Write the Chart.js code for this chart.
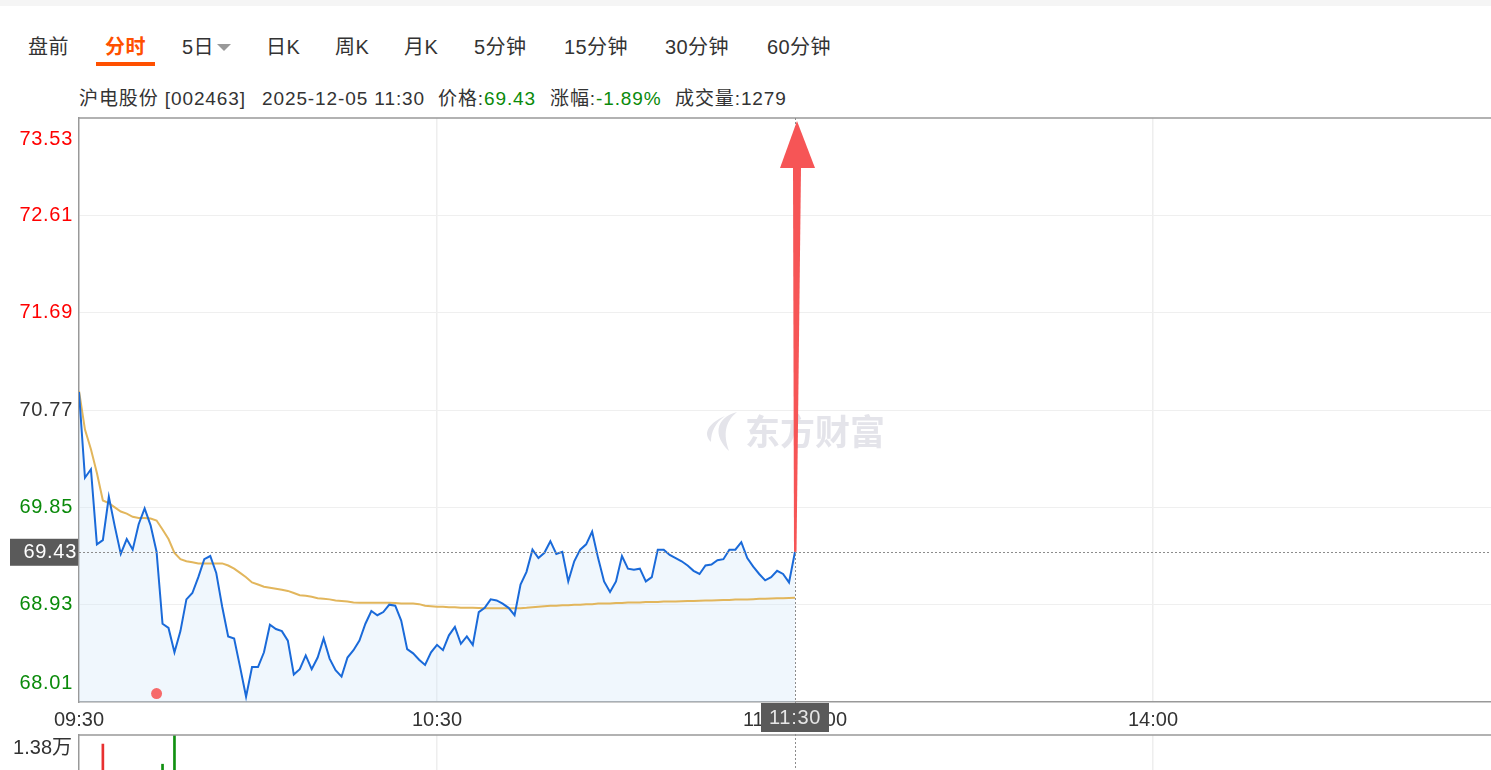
<!DOCTYPE html>
<html>
<head>
<meta charset="utf-8">
<script src="https://cdn.jsdelivr.net/npm/chart.js@4.4.1/dist/chart.umd.min.js"></script>
<style>
  html, body { margin: 0; padding: 0; width: 1491px; height: 770px; overflow: hidden; background: #fff; }
  body { position: relative; font-family: Arial, "Liberation Sans", "Noto Sans CJK SC", sans-serif; color: #333; }
  .strip { position: absolute; left: 0; top: 0; width: 1491px; height: 6px; background: #f5f5f5; }
  .t { position: absolute; top: 37px; font-size: 20px; line-height: 20px; white-space: nowrap; letter-spacing: 0.4px; }
  .t.on { color: #ff5000; font-weight: bold; }
  .bar { position: absolute; left: 96px; top: 62px; width: 59px; height: 4px; background: #ff5000; }
  .tri { position: absolute; left: 217px; top: 44px; width: 0; height: 0; border-left: 7px solid transparent; border-right: 7px solid transparent; border-top: 7px solid #999; }
  .i { position: absolute; top: 89px; font-size: 19px; line-height: 20px; white-space: nowrap; letter-spacing: 0.9px; }
  .g { color: #0a8a0a; }
  canvas { position: absolute; left: 0; }
</style>
</head>
<body>
<div class="strip"></div>
<div class="t" style="left:28px">盘前</div>
<div class="t on" style="left:105px">分时</div>
<div class="bar"></div>
<div class="t" style="left:182px">5日</div>
<div class="tri"></div>
<div class="t" style="left:266px">日K</div>
<div class="t" style="left:335px">周K</div>
<div class="t" style="left:404px">月K</div>
<div class="t" style="left:474px">5分钟</div>
<div class="t" style="left:564px">15分钟</div>
<div class="t" style="left:665px">30分钟</div>
<div class="t" style="left:767px">60分钟</div>

<div class="i" style="left:79px">沪电股份 [002463]</div>
<div class="i" style="left:262px">2025-12-05 11:30</div>
<div class="i" style="left:438px">价格:<span class="g">69.43</span></div>
<div class="i" style="left:550px">涨幅:<span class="g">-1.89%</span></div>
<div class="i" style="left:675px">成交量:1279</div>

<canvas id="price" width="1530" height="736" style="top:0;width:1530px;height:736px"></canvas>
<canvas id="vol" width="1530" height="140" style="top:734px;width:1530px;height:140px"></canvas>

<script>
// minute-by-minute price, 09:30 .. 11:30 (index = minutes since open)
const price = [
  70.94, 70.13, 70.21, 69.50, 69.54, 69.95, 69.67, 69.41, 69.55, 69.45,
  69.69, 69.84, 69.68, 69.43, 68.75, 68.71, 68.48, 68.68, 68.98, 69.04,
  69.19, 69.36, 69.39, 69.23, 68.91, 68.63, 68.61, 68.34, 68.06, 68.34,
  68.34, 68.48, 68.74, 68.70, 68.68, 68.59, 68.27, 68.32, 68.45, 68.32,
  68.43, 68.61, 68.42, 68.31, 68.25, 68.43, 68.50, 68.59, 68.75, 68.87,
  68.83, 68.86, 68.93, 68.92, 68.78, 68.51, 68.47, 68.41, 68.36, 68.48,
  68.55, 68.50, 68.64, 68.72, 68.56, 68.63, 68.55, 68.86, 68.90, 68.98,
  68.97, 68.94, 68.90, 68.83, 69.12, 69.24, 69.45, 69.37, 69.42, 69.53,
  69.41, 69.43, 69.15, 69.34, 69.45, 69.50, 69.62, 69.37, 69.15, 69.05,
  69.15, 69.39, 69.27, 69.26, 69.27, 69.15, 69.19, 69.45, 69.45, 69.40,
  69.37, 69.34, 69.30, 69.25, 69.22, 69.30, 69.31, 69.35, 69.36, 69.45,
  69.45, 69.52, 69.37, 69.29, 69.22, 69.16, 69.19, 69.25, 69.22, 69.14,
  69.43
];
// average price line
const avgPrice = [
  70.95, 70.585, 70.40, 70.175, 69.915, 69.89, 69.85, 69.81, 69.79, 69.76,
  69.75, 69.75, 69.745, 69.725, 69.64, 69.55, 69.42, 69.36, 69.34, 69.33,
  69.32, 69.32, 69.32, 69.32, 69.32, 69.30, 69.27, 69.23, 69.19, 69.14,
  69.12, 69.10, 69.09, 69.08, 69.07, 69.06, 69.04, 69.02, 69.015, 69.005,
  68.99, 68.985, 68.98, 68.97, 68.965, 68.96, 68.95, 68.948, 68.948, 68.948,
  68.948, 68.948, 68.948, 68.945, 68.94, 68.94, 68.94, 68.935, 68.92, 68.915,
  68.91, 68.91, 68.905, 68.905, 68.90, 68.90, 68.90, 68.898, 68.895, 68.895,
  68.895, 68.895, 68.895, 68.895, 68.897, 68.90, 68.905, 68.91, 68.915, 68.92,
  68.92, 68.925, 68.925, 68.93, 68.93, 68.935, 68.935, 68.94, 68.94, 68.94,
  68.945, 68.945, 68.95, 68.95, 68.95, 68.955, 68.955, 68.955, 68.96, 68.96,
  68.96, 68.962, 68.965, 68.965, 68.968, 68.97, 68.97, 68.972, 68.975, 68.975,
  68.978, 68.98, 68.98, 68.982, 68.985, 68.985, 68.988, 68.99, 68.99, 68.992,
  68.995
];
const markerMinutes = [13];
const markerValues = [68.09];

const prevClose = 70.77;
const lastPrice = 69.43;
const yTicks = [68.01, 68.93, 69.85, 70.77, 71.69, 72.61, 73.53];
const xTickMinutes = [0, 60, 120, 180, 240];
const xTickLabels = ['09:30', '10:30', '11:30/13:00', '14:00', ''];

// visible volume bars (only these tops show above the page edge)
const volMinutes = [4, 14, 16];
const volValues = [12900, 10900, 13800];
const volUp = [true, false, false];
const volMax = 13800;

const FONT = 'Arial, "Liberation Sans", "Noto Sans CJK SC", sans-serif';
const CROSS = 120;

function dotted(ctx, x1, y1, x2, y2) {
  ctx.save();
  ctx.strokeStyle = '#8c8c8c';
  ctx.lineWidth = 1;
  ctx.setLineDash([2, 2]);
  ctx.beginPath();
  ctx.moveTo(x1, y1);
  ctx.lineTo(x2, y2);
  ctx.stroke();
  ctx.restore();
}

const priceDecor = {
  id: 'priceDecor',
  beforeDatasetsDraw(chart) {
    const { ctx } = chart;
    const x = chart.scales.x.getPixelForValue(CROSS);
    const y = chart.scales.y.getPixelForValue(prevClose) + 22;
    ctx.save();
    // watermark
    ctx.fillStyle = '#e4e4ea';
    ctx.font = 'bold 35px "Noto Sans CJK SC", sans-serif';
    ctx.textAlign = 'left';
    ctx.textBaseline = 'middle';
    ctx.fillText('东方财富', x - 50, y);
    // leaf logo
    ctx.beginPath();
    ctx.moveTo(x - 58, y - 20);
    ctx.bezierCurveTo(x - 80, y - 14, x - 82, y + 4, x - 66, y + 19);
    ctx.bezierCurveTo(x - 72, y + 2, x - 70, y - 10, x - 58, y - 20);
    ctx.fill();
    ctx.beginPath();
    ctx.moveTo(x - 70, y - 16);
    ctx.bezierCurveTo(x - 88, y - 8, x - 92, y + 2, x - 84, y + 10);
    ctx.bezierCurveTo(x - 84, y, x - 80, y - 9, x - 70, y - 16);
    ctx.fill();
    ctx.restore();
  },
  afterDraw(chart) {
    const { ctx, chartArea } = chart;
    const sx = chart.scales.x, sy = chart.scales.y;
    ctx.save();
    // top border
    ctx.strokeStyle = '#999';
    ctx.lineWidth = 1.5;
    ctx.beginPath();
    ctx.moveTo(chartArea.left, chartArea.top);
    ctx.lineTo(chart.width, chartArea.top);
    ctx.stroke();

    // crosshair
    const cx = sx.getPixelForValue(CROSS);
    const cy = sy.getPixelForValue(lastPrice);
    dotted(ctx, cx + 0.5, chartArea.top, cx + 0.5, chart.height);
    dotted(ctx, chartArea.left, Math.round(cy) + 0.5, chart.width, Math.round(cy) + 0.5);

    // y labels
    ctx.font = '20px ' + FONT;
    ctx.letterSpacing = '0.7px';
    ctx.textAlign = 'right';
    ctx.textBaseline = 'middle';
    yTicks.forEach(v => {
      let py = sy.getPixelForValue(v);
      py = Math.min(Math.max(py, chartArea.top + 21), chartArea.bottom - 19);
      ctx.fillStyle = v > prevClose + 0.001 ? '#ff0000' : (v < prevClose - 0.001 ? '#0a8a0a' : '#333');
      ctx.fillText(v.toFixed(2), 73, py);
    });

    // current price box
    ctx.fillStyle = '#5a5a5a';
    ctx.fillRect(10, cy - 13, 68, 27);
    ctx.fillStyle = '#fff';
    ctx.fillText(lastPrice.toFixed(2), 77, cy + 1);

    // time box
    ctx.fillStyle = '#5a5a5a';
    ctx.fillRect(cx - 34, chartArea.bottom + 1, 68, 29);
    ctx.fillStyle = '#e6e6e6';
    ctx.textAlign = 'center';
    ctx.fillText('11:30', cx, chartArea.bottom + 16);
    ctx.letterSpacing = '0px';

    // red arrow pointing up from the last point
    ctx.fillStyle = '#f65556';
    const headY = chartArea.top + 50;
    ctx.beginPath();
    ctx.moveTo(cx - 1, cy);
    ctx.lineTo(cx + 1.5, cy);
    ctx.lineTo(cx + 6, headY);
    ctx.lineTo(cx - 2, headY);
    ctx.closePath();
    ctx.fill();
    ctx.beginPath();
    ctx.moveTo(cx - 15, headY);
    ctx.lineTo(cx + 20, headY);
    ctx.lineTo(cx + 2, chartArea.top + 3);
    ctx.closePath();
    ctx.fill();
    ctx.restore();
  }
};

new Chart(document.getElementById('price'), {
  type: 'line',
  data: {
    datasets: [
      {
        label: '价格',
        data: price.map((v, i) => ({ x: i, y: v })),
        borderColor: '#1a6ad9',
        borderWidth: 2,
        backgroundColor: 'rgba(205,230,250,0.3)',
        fill: 'start',
        pointRadius: 0,
        tension: 0,
        order: 0
      },
      {
        label: '均价',
        data: avgPrice.map((v, i) => ({ x: i, y: v })),
        borderColor: '#e2b65c',
        borderWidth: 2,
        fill: false,
        pointRadius: 0,
        tension: 0,
        order: 1
      },
      {
        type: 'scatter',
        label: 'mark',
        data: markerMinutes.map((m, i) => ({ x: m, y: markerValues[i] })),
        backgroundColor: '#f66a6a',
        borderWidth: 0,
        pointRadius: 5.5,
        order: 2
      }
    ]
  },
  options: {
    responsive: false,
    animation: false,
    devicePixelRatio: 1,
    layout: { padding: { top: 118, right: 19, left: 0, bottom: 0 } },
    plugins: {
      legend: { display: false },
      tooltip: { enabled: false },
      filler: { drawTime: 'beforeDatasetsDraw' }
    },
    scales: {
      x: {
        type: 'linear',
        min: 0,
        max: 240,
        afterFit: s => { s.height = 34; },
        afterBuildTicks: s => { s.ticks = xTickMinutes.map(v => ({ value: v })); },
        border: { color: '#999', width: 1.5 },
        grid: {
          drawTicks: false,
          lineWidth: 1.5,
          color: c => (c.tick && (c.tick.value === 60 || c.tick.value === 180)) ? '#eeeeee' : 'transparent'
        },
        ticks: {
          autoSkip: false,
          maxRotation: 0,
          padding: 6,
          color: '#333',
          font: { size: 20, family: FONT },
          callback: v => xTickLabels[xTickMinutes.indexOf(v)]
        }
      },
      y: {
        type: 'linear',
        min: yTicks[0],
        max: yTicks[yTicks.length - 1],
        afterFit: s => { s.width = 79; },
        afterBuildTicks: s => { s.ticks = yTicks.map(v => ({ value: v })); },
        border: { color: '#999', width: 1.5 },
        grid: {
          drawTicks: false,
          color: c => (c.tick && c.tick.value > yTicks[0] && c.tick.value < yTicks[yTicks.length - 1]) ? '#efefef' : 'transparent'
        },
        ticks: { display: false }
      }
    }
  },
  plugins: [priceDecor]
});

const volDecor = {
  id: 'volDecor',
  afterDraw(chart) {
    const { ctx, chartArea } = chart;
    ctx.save();
    ctx.strokeStyle = '#999';
    ctx.lineWidth = 1.5;
    ctx.beginPath();
    ctx.moveTo(chartArea.left, chartArea.top);
    ctx.lineTo(chart.width, chartArea.top);
    ctx.stroke();
    const cx = chart.scales.x.getPixelForValue(CROSS);
    dotted(ctx, cx + 0.5, 0, cx + 0.5, chart.height);
    ctx.fillStyle = '#333';
    ctx.font = '20px ' + FONT;
    ctx.textAlign = 'right';
    ctx.textBaseline = 'middle';
    ctx.fillText((volMax / 10000).toFixed(2) + '万', 72, chartArea.top + 13);
    ctx.restore();
  }
};

new Chart(document.getElementById('vol'), {
  type: 'bar',
  data: {
    datasets: [{
      label: '成交量',
      data: volMinutes.map((m, i) => ({ x: m, y: volValues[i] })),
      backgroundColor: volUp.map(u => u ? '#e83030' : '#109010'),
      barThickness: 2,
      borderWidth: 0
    }]
  },
  options: {
    responsive: false,
    animation: false,
    devicePixelRatio: 1,
    layout: { padding: { top: 1, right: 19, left: 0, bottom: 0 } },
    plugins: { legend: { display: false }, tooltip: { enabled: false } },
    scales: {
      x: {
        type: 'linear',
        min: 0,
        max: 240,
        offset: false,
        display: true,
        afterFit: s => { s.height = 0; },
        afterBuildTicks: s => { s.ticks = xTickMinutes.map(v => ({ value: v })); },
        border: { display: false },
        grid: {
          offset: false,
          drawTicks: false,
          lineWidth: 1.5,
          color: c => (c.tick && (c.tick.value === 60 || c.tick.value === 180)) ? '#eeeeee' : 'transparent'
        },
        ticks: { display: false }
      },
      y: {
        min: 0,
        max: volMax,
        afterFit: s => { s.width = 79; },
        border: { color: '#999', width: 1.5 },
        grid: { display: false },
        ticks: { display: false }
      }
    }
  },
  plugins: [volDecor]
});
</script>
</body>
</html>
